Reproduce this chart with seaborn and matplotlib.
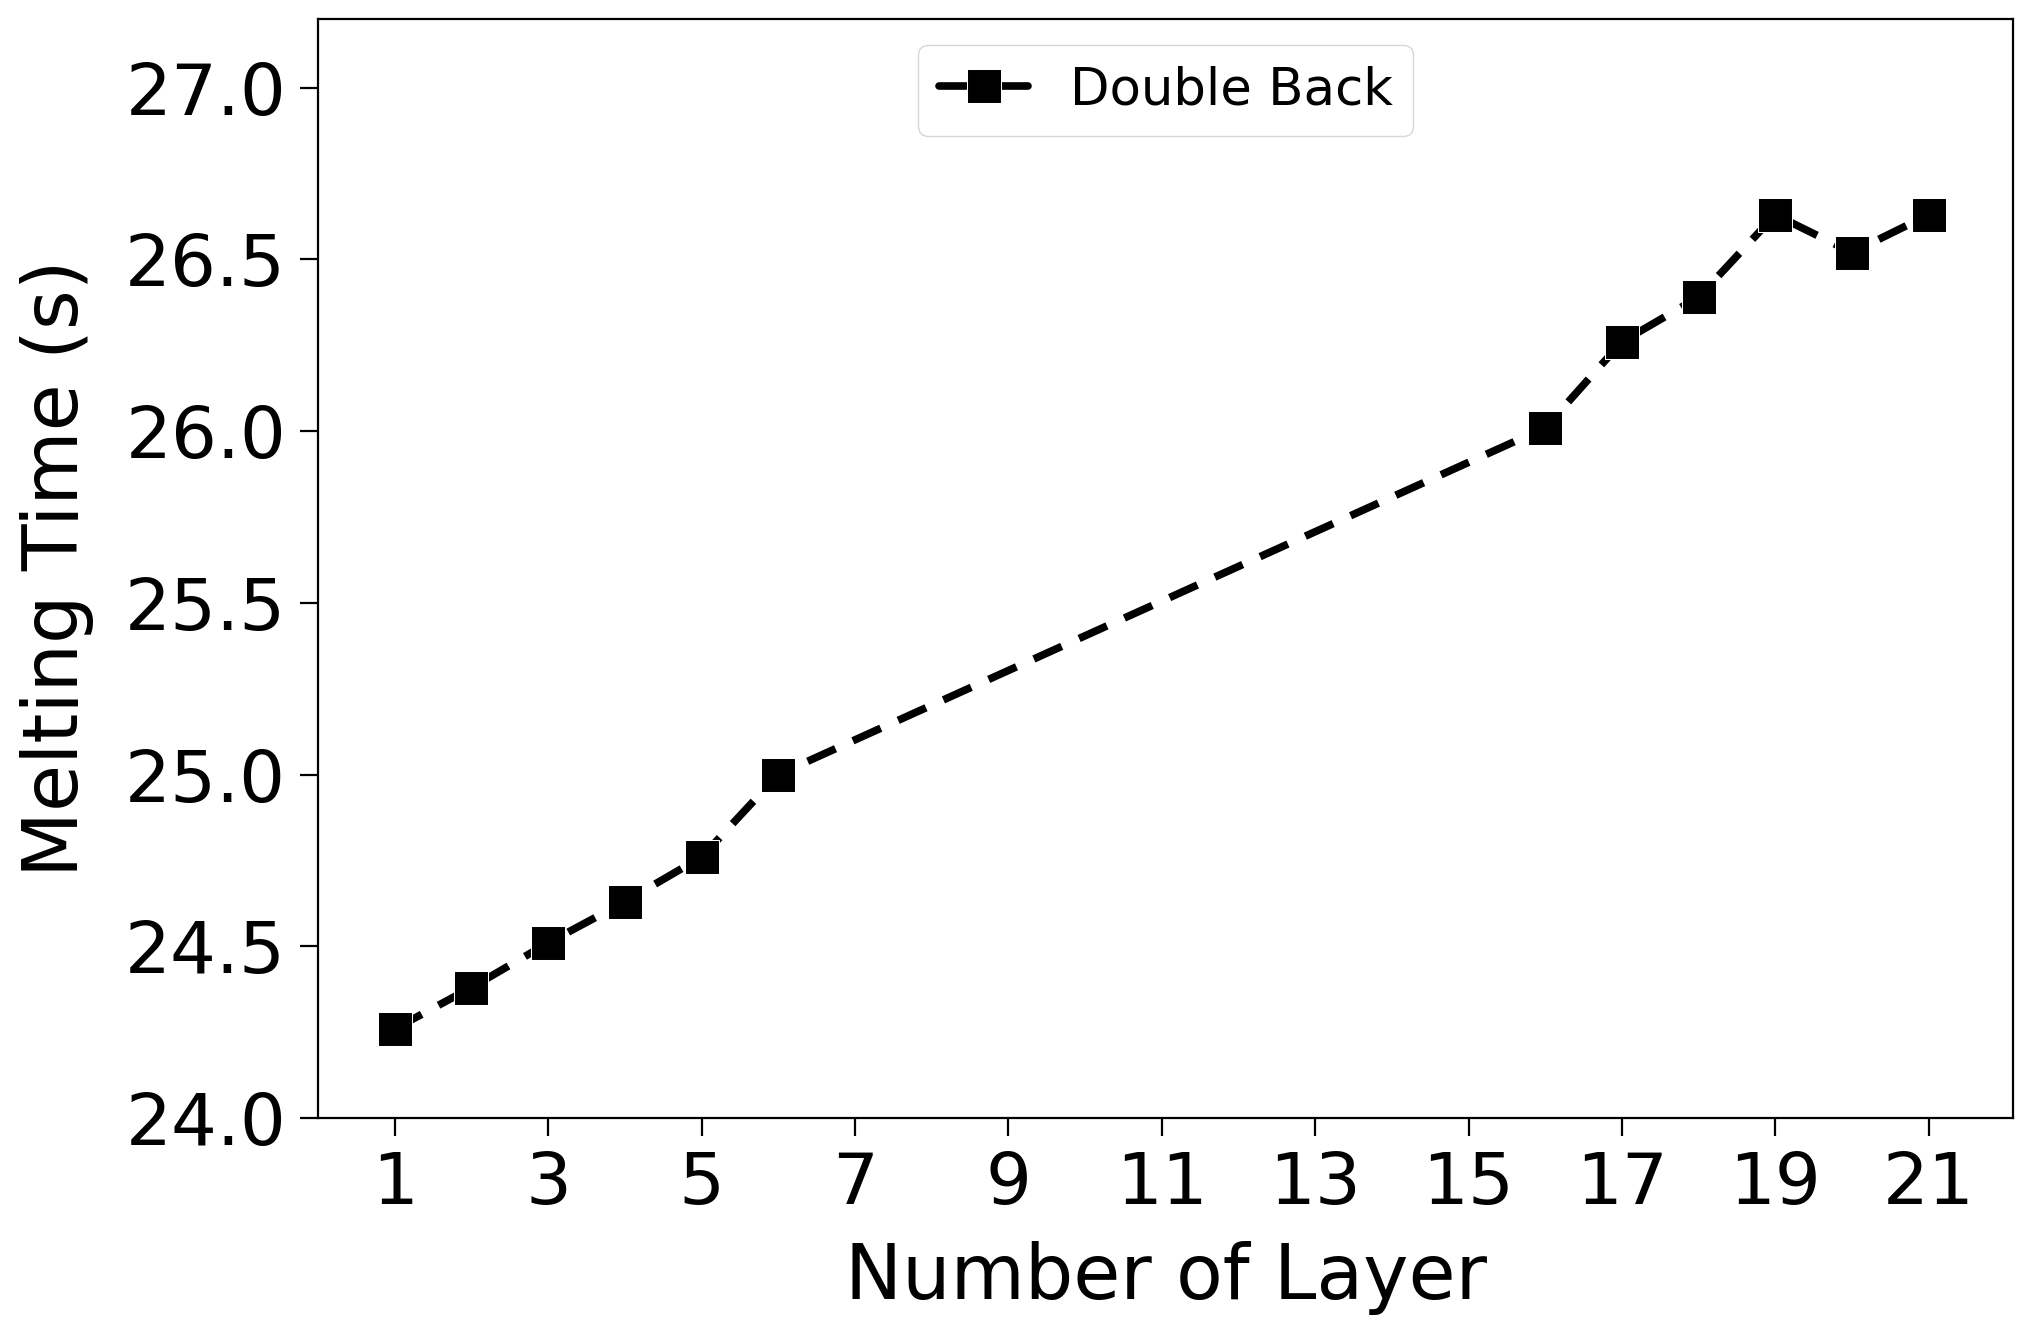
import matplotlib
matplotlib.use('Agg')
import matplotlib.pyplot as plt
import seaborn as sns

# Data
layers = [1, 2, 3, 4, 5, 6, 16, 17, 18, 19, 20, 21]
melt_time = [24.26, 24.38, 24.51, 24.63, 24.76, 25.00, 26.01, 26.26, 26.39, 26.63, 26.52, 26.63]
series_name = 'Double Back'
x_ticks = list(range(1, 22, 2))
y_ticks = [24.0, 24.5, 25.0, 25.5, 26.0, 26.5, 27.0]

sns.set_style('ticks')
plt.rcParams['font.family'] = ['DejaVu Sans']
plt.rcParams['text.color'] = 'black'
plt.rcParams['axes.labelcolor'] = 'black'
plt.rcParams['xtick.color'] = 'black'
plt.rcParams['ytick.color'] = 'black'

fig = plt.figure(figsize=(20.26, 13.35), dpi=100)
ax = fig.add_axes([0.157, 0.1625, 0.8366, 0.8233])

sns.lineplot(x=layers, y=melt_time, ax=ax, color='black', marker='s',
             markersize=24, linewidth=5.5, linestyle='--', label=series_name)
ax.lines[0].set_dashes((4, 2.5))

ax.set_xlim(0, 22.1)
ax.set_ylim(24.0, 27.2)
ax.set_xticks(x_ticks)
ax.set_yticks(y_ticks)
ax.set_yticklabels([f'{v:.1f}' for v in y_ticks])
ax.tick_params(axis='both', labelsize=52, length=13, width=1.6, color='black',
               labelcolor='black', direction='out', pad=10)
ax.set_xlabel('Number of Layer', fontsize=55, labelpad=16, color='black')
ax.set_ylabel('Melting Time (s)', fontsize=55, labelpad=22, color='black')
for s in ax.spines.values():
    s.set_color('black')
    s.set_linewidth(1.6)

leg = ax.legend(loc='upper center', fontsize=37, handlelength=1.75,
                borderaxespad=0.5, frameon=True)
leg.get_lines()[0].set_linestyle('-')
for t in leg.get_texts():
    t.set_color('black')

fig.savefig('out.png', dpi=100)
